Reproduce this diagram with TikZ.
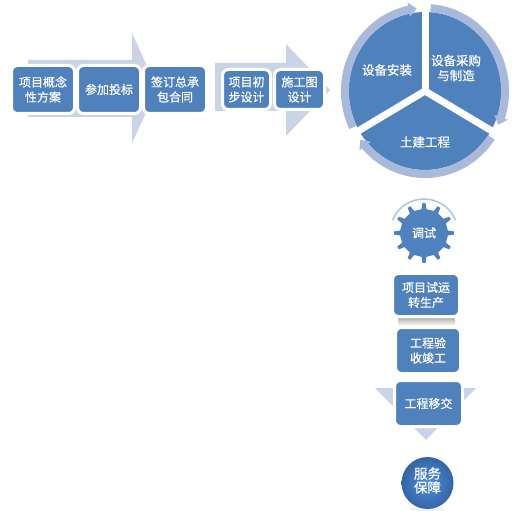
\documentclass[tikz,border=0pt]{standalone}
\usepackage{fontspec}
\newfontfamily\cjk[FakeBold=0.5]{Noto Sans CJK SC}
\usetikzlibrary{arrows.meta,bending}
\definecolor{myblue}{HTML}{4F81BD}
\definecolor{lav}{HTML}{CBD3E6}
\definecolor{ringc}{HTML}{A9B9DA}
\definecolor{arcc}{HTML}{B9C3D6}
\definecolor{ballin}{HTML}{5090D6}
\definecolor{ballout}{HTML}{3464A8}
\begin{document}
\begin{tikzpicture}[x=1pt,y=-1pt,
  box/.style={rounded corners=6pt, fill=myblue, draw=white, line width=3pt, text=white,
    align=center, inner sep=0pt, font=\cjk\fontsize{12}{15}\selectfont},
  lbl/.style={text=white, align=center, inner sep=0pt, font=\cjk\fontsize{12.5}{15}\selectfont},
  ringarc/.style={ringc, line width=8pt, -{Triangle[width=14pt,length=8pt]}},
  divider/.style={white, line width=7pt},
  arrowshape/.style={fill=lav}]
\fill[white] (0,0) rectangle (524,518);
\useasboundingbox (0,0) rectangle (524,518);

% background block arrows
\fill[arrowshape] (28,60) -- (132,60) -- (132,33) -- (157,88.5) -- (132,143) -- (132,117) -- (28,117) -- cycle;
\fill[arrowshape] (215,63) -- (286,63) -- (286,44) -- (330,90) -- (286,136) -- (286,111) -- (215,111) -- cycle;

% process boxes
\node[box, minimum width=63pt, minimum height=48pt] (b1) at (43,89.5) {项目概念\\性方案};
\node[box, minimum width=63pt, minimum height=48pt] (b2) at (109,89.5) {参加投标};
\node[box, minimum width=63pt, minimum height=48pt] (b3) at (175,89.5) {签订总承\\包合同};
\node[box, minimum width=48pt, minimum height=40pt] (b4) at (246.5,89.5) {项目初\\步设计};
\node[box, minimum width=50pt, minimum height=40pt] (b5) at (299.5,89.5) {施工图\\设计};

% cycle
\begin{scope}[shift={(425,91)}, xscale=0.965]
  \fill[myblue] (0,0) circle[radius=79];
  \draw[ringarc] (154:83) arc[start angle=154, end angle=264, radius=83];
  \draw[ringarc] (-86:83) arc[start angle=-86, end angle=24, radius=83];
  \draw[ringarc] (34:83) arc[start angle=34, end angle=144, radius=83];
  \draw[divider] (0,0) -- (270:92);
  \draw[divider] (0,0) -- (150:92);
  \draw[divider] (0,0) -- (30:92);
\end{scope}
\node[lbl] (c1) at (387,70) {设备安装};
\node[lbl] (c2) at (456,68) {设备采购\\与制造};
\node[lbl] (c3) at (425,142) {土建工程};

% gear
\begin{scope}[shift={(424,233)}]
  \draw[arcc, line width=1.5pt] (-22:34) arc[start angle=-22, end angle=-158, radius=34];
  \fill[myblue] (84:24) \foreach \a in {90,120,...,420} { -- (\a-6:24) -- (\a-3:30) -- (\a+3:30) -- (\a+6:24) } -- cycle;
\end{scope}
\node[lbl, font=\cjk\fontsize{12}{15}\selectfont] (gear) at (424,233) {调试};

% vertical boxes
\shade[top color=gray!65, bottom color=gray!15] (398,317) rectangle (455,324);
\node[box, minimum width=67pt, minimum height=43pt] (b6) at (426,295) {项目试运\\转生产};
\node[box, minimum width=65pt, minimum height=46pt] (b7) at (428,350.5) {工程验\\收竣工};
\fill[arrowshape] (375,388) -- (476,388) -- (426,440) -- cycle;
\node[box, minimum width=68pt, minimum height=46pt] (b8) at (428.5,403.5) {工程移交};

% service ball
\fill[gray!12] (427.5,509) ellipse[x radius=18, y radius=2];
\shade[inner color=ballin, outer color=ballout] (427.5,483) circle[radius=26];
\node[lbl, font=\cjk\fontsize{13.5}{14}\selectfont] (svc) at (427.5,480.5) {服务\\保障};
\end{tikzpicture}
\end{document}
